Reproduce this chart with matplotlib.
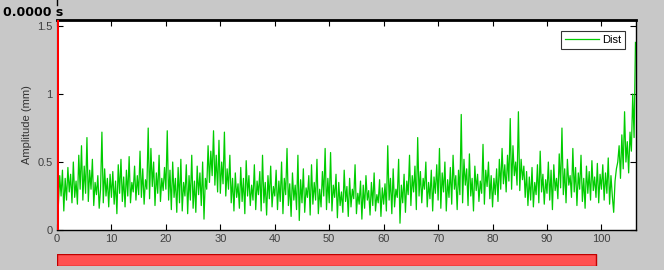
import numpy as np
import matplotlib
matplotlib.use("Agg")
import matplotlib.pyplot as plt
from matplotlib.patches import Rectangle

seg_00 = [52, 18, 40, 25, 44, 14, 38, 22, 46, 28, 41, 20, 50, 24, 36, 19, 55, 30, 62, 22,
          47, 27, 68, 21, 44, 30, 52, 18, 35, 26, 40, 16, 30, 72, 20, 45, 25, 38, 17, 41]
seg_10 = [24, 43, 19, 36, 12, 48, 27, 52, 21, 39, 17, 44, 25, 54, 20, 35, 28, 47, 22, 40,
          26, 58, 24, 45, 19, 37, 30, 75, 23, 60, 32, 50, 18, 42, 27, 55, 21, 38, 29, 46]
seg_20 = [30, 73, 22, 44, 15, 50, 24, 38, 13, 46, 20, 52, 14, 35, 25, 48, 12, 40, 22, 55,
          16, 36, 13, 47, 26, 42, 18, 50, 8, 38, 30, 62, 35, 58, 40, 73, 33, 55, 28, 66]
seg_30 = [27, 50, 34, 72, 25, 45, 30, 55, 20, 38, 14, 42, 24, 34, 16, 46, 21, 38, 12, 51,
          25, 40, 18, 33, 22, 48, 15, 36, 26, 43, 14, 55, 20, 35, 11, 40, 23, 47, 17, 32]
seg_40 = [25, 44, 15, 36, 21, 50, 12, 38, 26, 60, 18, 34, 10, 42, 22, 33, 15, 55, 7, 37,
          20, 45, 13, 31, 24, 40, 11, 48, 19, 35, 22, 52, 12, 30, 17, 43, 25, 60, 15, 38]
seg_50 = [20, 57, 14, 33, 24, 41, 9, 35, 18, 28, 13, 44, 21, 32, 10, 38, 17, 30, 23, 48,
          12, 27, 19, 36, 8, 33, 16, 40, 22, 29, 11, 35, 18, 42, 14, 26, 20, 37, 10, 31]
seg_60 = [19, 34, 14, 62, 22, 38, 12, 45, 17, 30, 24, 52, 5, 33, 20, 41, 13, 36, 26, 55,
          18, 40, 28, 47, 15, 68, 25, 43, 20, 38, 30, 50, 17, 35, 23, 44, 14, 39, 27, 48]
seg_70 = [22, 60, 16, 42, 28, 50, 14, 37, 24, 46, 19, 55, 30, 40, 15, 44, 26, 85, 20, 52,
          33, 45, 18, 56, 25, 38, 14, 47, 29, 41, 21, 36, 27, 63, 19, 44, 32, 50, 23, 40]
seg_80 = [17, 38, 26, 45, 21, 52, 30, 60, 34, 48, 28, 55, 36, 82, 30, 62, 40, 50, 33, 87,
          29, 52, 37, 47, 24, 43, 18, 39, 22, 46, 17, 35, 26, 48, 20, 58, 28, 41, 19, 37]
seg_90 = [27, 50, 22, 44, 15, 48, 29, 38, 23, 56, 31, 75, 26, 45, 20, 52, 33, 40, 24, 60,
          28, 46, 18, 42, 30, 55, 21, 38, 16, 47, 27, 43, 22, 51, 29, 39, 24, 49, 20, 41]
seg_100 = [30, 48, 22, 42, 27, 53, 19, 40, 25, 13, 36, 45, 50, 62, 38, 70, 45, 87, 50, 65,
           42, 72, 58, 100, 68, 138]

sample_step = 0.25
x_ticks = [0, 10, 20, 30, 40, 50, 60, 70, 80, 90, 100]
y_ticks = [0, 0.5, 1, 1.5]
y_ticklabels = ["0", "0.5", "1", "1.5"]
legend_label = "Dist"
time_text = "0.0000 s"
progress = 0.931  # fraction of the progress bar filled

amp = np.array(seg_00 + seg_10 + seg_20 + seg_30 + seg_40 + seg_50 + seg_60 +
               seg_70 + seg_80 + seg_90 + seg_100) / 100.0
t = np.arange(len(amp)) * sample_step

W, H = 664, 270
fig = plt.figure(figsize=(W / 100, H / 100), dpi=100, facecolor="#c8c8c8")
plt.rcParams["font.family"] = ["Liberation Sans", "DejaVu Sans"]

ax = fig.add_axes([57 / W, (H - 230) / H, (636 - 57) / W, (230 - 20) / H])
ax.set_facecolor("white")
ax.plot(t, amp, color="#00cc00", lw=0.9, label=legend_label)
ax.axvline(0, color="red", lw=2.2, zorder=5)
ax.set_xlim(0, 106.35)
ax.set_ylim(0, 1.545)
ax.set_xticks(x_ticks)
ax.set_xticklabels([str(v) for v in x_ticks])
ax.set_yticks(y_ticks)
ax.set_yticklabels(y_ticklabels)
ax.tick_params(direction="in", length=4, width=0.8, top=True, right=True,
               labelsize=8, labelcolor="#404040", color="black", pad=3)
for s in ["bottom", "right"]:
    ax.spines[s].set_linewidth(1.0)
ax.spines["top"].set_linewidth(2.0)
ax.set_ylabel("Amplitude (mm)", fontsize=8, color="#333333", labelpad=4)
leg = ax.legend(loc="upper right", fontsize=8, frameon=True, fancybox=False,
                edgecolor="black", handlelength=3.0, borderaxespad=1.0,
                borderpad=0.35, handletextpad=0.3)
leg.get_frame().set_linewidth(0.8)

fig.text(3 / W, (H - 12) / H, time_text, fontsize=9, fontweight="bold",
         family="DejaVu Sans", color="black", va="center", ha="left")

# progress bar
bar_ax = fig.add_axes([57 / W, (H - 266) / H, (636 - 57) / W, 12 / H])
bar_ax.set_xlim(0, 1)
bar_ax.set_ylim(0, 1)
bar_ax.axis("off")
bar_ax.add_patch(Rectangle((0, 0), progress, 1, facecolor="#ff5050",
                           edgecolor="#c00000", lw=1.0))

# small slider tick at top
fig.add_artist(plt.Line2D([57 / W, 57 / W], [(H - 5) / H, 1.0], color="black", lw=1))

fig.savefig("out.png", dpi=100, facecolor=fig.get_facecolor())
